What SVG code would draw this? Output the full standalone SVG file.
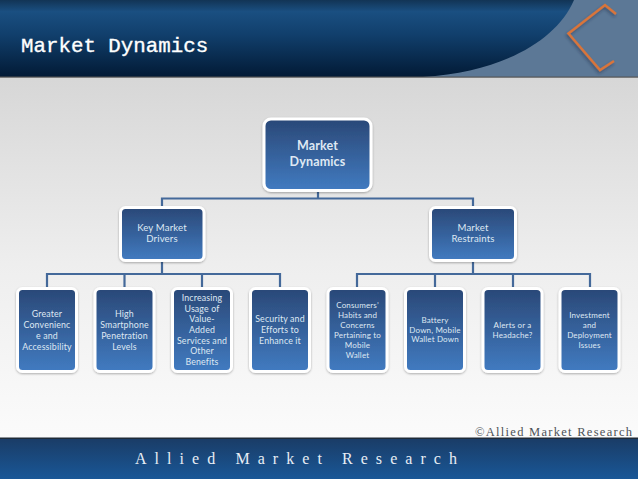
<svg xmlns="http://www.w3.org/2000/svg" width="638" height="479" viewBox="0 0 638 479">
<style>
.box{stroke:#fff;stroke-width:3;fill:url(#boxG);filter:url(#sh)}
.t{font-family:"Lato","Open Sans",sans-serif;fill:#dfe8f3;text-anchor:middle;letter-spacing:.15px}
.s10{font-size:8.800px}.s9{font-size:8px}.s11{font-size:9.600px}
.c{fill:none;stroke:#44699a;stroke-width:2.200}
</style>
<defs>
<linearGradient id="bg" x1="0" y1="0" x2="0" y2="1"><stop offset="0" stop-color="#cdcdcd"/><stop offset="0.55" stop-color="#eeeeee"/><stop offset="1" stop-color="#fefefe"/></linearGradient>
<linearGradient id="hd" x1="0" y1="0" x2="0" y2="1"><stop offset="0" stop-color="#123455"/><stop offset="0.15" stop-color="#1a4f81"/><stop offset="0.45" stop-color="#113f6c"/><stop offset="1" stop-color="#021a35"/></linearGradient>
<linearGradient id="ft" x1="0" y1="0" x2="0" y2="1"><stop offset="0" stop-color="#1a3c66"/><stop offset="1" stop-color="#195797"/></linearGradient>
<linearGradient id="boxG" x1="0" y1="0" x2="0" y2="1"><stop offset="0" stop-color="#2a4877"/><stop offset="1" stop-color="#417bc1"/></linearGradient>
<filter id="sh" x="-20%" y="-20%" width="140%" height="140%"><feDropShadow dx="0" dy="1" stdDeviation="1.2" flood-color="#000" flood-opacity="0.3"/></filter>
<filter id="sh2" x="-30%" y="-30%" width="160%" height="160%"><feDropShadow dx="-1" dy="2" stdDeviation="1.500" flood-color="#1c2c40" flood-opacity="0.5"/></filter>
</defs>
<rect width="638" height="479" fill="url(#bg)"/>
<g id="header">
<rect width="638" height="77" fill="#5c7896"/>
<path d="M0 0H574C556 42 500 72 423 77H0Z" fill="url(#hd)"/>
<rect y="76.500" width="638" height="1.200" fill="#555"/>
<path d="M616 14L605 5L568.500 33.500L600 70L614 61" fill="none" stroke="#d8743a" stroke-width="2.500" filter="url(#sh2)"/>
<text x="21" y="52" font-size="20.800" fill="#fff" stroke="#fff" stroke-width=".35" style="font-family:'Liberation Mono',monospace">Market Dynamics</text>
</g>
<g id="connectors">
<path class="c" d="M318 192V198.500M162 206V198.500H473V206"/>
<path class="c" d="M162 262V274M47 287V274H280V287M124.500 274V287M202 274V287"/>
<path class="c" d="M473 262V274M357 287V274H590V287M435 274V287M513 274V287"/>
</g>
<g id="n-root"><rect class="box" x="264" y="119" width="107" height="71.500" rx="7"/><text class="t" x="317.500" y="150" font-size="12.500" font-weight="700">Market</text><text class="t" x="317.500" y="166" font-size="12.500" font-weight="700">Dynamics</text></g>
<g id="n-drivers"><rect class="box" x="120.500" y="207.500" width="83.500" height="53" rx="5"/><text class="t s11" x="162" y="231">Key Market</text><text class="t s11" x="162" y="242">Drivers</text></g>
<g id="n-restraints"><rect class="box" x="430.500" y="207.500" width="85" height="53" rx="5"/><text class="t s11" x="473" y="231">Market</text><text class="t s11" x="473" y="242">Restraints</text></g>
<g id="n-d1"><rect class="box" x="17.500" y="288.500" width="59" height="83" rx="5"/><text class="t s10" x="47" y="317">Greater</text><text class="t s10" x="47" y="328">Convenienc</text><text class="t s10" x="47" y="338.500">e and</text><text class="t s10" x="47" y="349.500">Accessibility</text></g>
<g id="n-d2"><rect class="box" x="95" y="288.500" width="59" height="83" rx="5"/><text class="t s10" x="124.500" y="317">High</text><text class="t s10" x="124.500" y="328">Smartphone</text><text class="t s10" x="124.500" y="338.500">Penetration</text><text class="t s10" x="124.500" y="349.500">Levels</text></g>
<g id="n-d3"><rect class="box" x="172.500" y="288.500" width="59" height="83" rx="5"/><text class="t s10" x="202" y="301">Increasing</text><text class="t s10" x="202" y="311.500">Usage of</text><text class="t s10" x="202" y="322">Value-</text><text class="t s10" x="202" y="333">Added</text><text class="t s10" x="202" y="343.500">Services and</text><text class="t s10" x="202" y="354">Other</text><text class="t s10" x="202" y="365">Benefits</text></g>
<g id="n-d4"><rect class="box" x="250.500" y="288.500" width="59" height="83" rx="5"/><text class="t s10" x="280" y="322">Security and</text><text class="t s10" x="280" y="333">Efforts to</text><text class="t s10" x="280" y="344">Enhance it</text></g>
<g id="n-r1"><rect class="box" x="328" y="288.500" width="59" height="83" rx="5"/><text class="t s9" x="357.500" y="308">Consumers’</text><text class="t s9" x="357.500" y="318">Habits and</text><text class="t s9" x="357.500" y="328">Concerns</text><text class="t s9" x="357.500" y="338">Pertaining to</text><text class="t s9" x="357.500" y="347.500">Mobile</text><text class="t s9" x="357.500" y="357.500">Wallet</text></g>
<g id="n-r2"><rect class="box" x="405.500" y="288.500" width="59" height="83" rx="5"/><text class="t s9" x="435" y="323">Battery</text><text class="t s9" x="435" y="332.500">Down, Mobile</text><text class="t s9" x="435" y="342">Wallet Down</text></g>
<g id="n-r3"><rect class="box" x="483" y="288.500" width="59" height="83" rx="5"/><text class="t s9" x="512.500" y="328">Alerts or a</text><text class="t s9" x="512.500" y="338">Headache?</text></g>
<g id="n-r4"><rect class="box" x="560" y="288.500" width="59" height="83" rx="5"/><text class="t s9" x="589.500" y="318">Investment</text><text class="t s9" x="589.500" y="328">and</text><text class="t s9" x="589.500" y="337.500">Deployment</text><text class="t s9" x="589.500" y="347.500">Issues</text></g>
<g id="footer">
<text x="475" y="436" font-size="12.500" fill="#4d5257" style="font-family:'Liberation Serif',serif" textLength="157" lengthAdjust="spacing">©Allied Market Research</text>
<rect y="438" width="638" height="41" fill="url(#ft)"/>
<rect y="437.500" width="638" height="1.500" fill="#1f2b38"/>
<text x="135" y="464" font-size="16" fill="#e8eef5" style="font-family:'Liberation Serif',serif" textLength="322" lengthAdjust="spacing">Allied Market Research</text>
</g>
</svg>
